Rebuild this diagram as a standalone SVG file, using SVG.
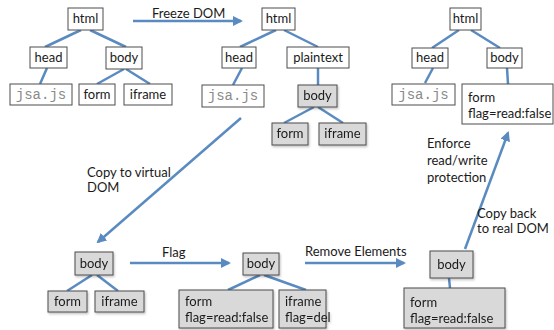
<svg xmlns="http://www.w3.org/2000/svg" width="554" height="330" viewBox="0 0 554 330">
  <style>
    .box { fill: #ffffff; stroke: #4d4d4d; stroke-width: 1; }
    .grey { fill: #d9d9d9; stroke: #4d4d4d; stroke-width: 1; }
    .lbl { font-family: Lato, "Open Sans", sans-serif; font-size: 13px; fill: #1a1a1a; }
    .mono { font-family: "Liberation Mono", "DejaVu Sans Mono", monospace; font-size: 14px; fill: #8a8a8a; }
    .edge { stroke: #5a8bc0; stroke-width: 2.5; fill: none; }
    .arrow { stroke: #5a8bc0; stroke-width: 2.5; fill: none; marker-end: url(#head); }
  </style>
  <defs>
    <marker id="head" viewBox="0 0 10 10" refX="8" refY="5" markerWidth="4" markerHeight="4" orient="auto" markerUnits="strokeWidth">
      <path d="M0,0 L10,5 L0,10 z" fill="#5a8bc0"/>
    </marker>
    <filter id="sh" x="-10%" y="-10%" width="130%" height="140%">
      <feDropShadow dx="1" dy="1.5" stdDeviation="1" flood-color="#000" flood-opacity="0.25"/>
    </filter>
  </defs>

  <!-- tree edges and process arrows -->
  <g id="connectors">
    <!-- tree 1 -->
    <line class="edge" x1="81" y1="30" x2="45" y2="47"/>
    <line class="edge" x1="90" y1="30" x2="126" y2="47"/>
    <line class="edge" x1="47" y1="68" x2="40" y2="84"/>
    <line class="edge" x1="124" y1="69" x2="97" y2="84"/>
    <line class="edge" x1="126" y1="69" x2="150" y2="84"/>
    <!-- tree 2 -->
    <line class="edge" x1="276" y1="30" x2="240" y2="47"/>
    <line class="edge" x1="284" y1="30" x2="318" y2="47"/>
    <line class="edge" x1="242" y1="68" x2="233" y2="85"/>
    <line class="edge" x1="318" y1="68" x2="318" y2="85"/>
    <line class="edge" x1="314" y1="107" x2="284" y2="123"/>
    <line class="edge" x1="318" y1="107" x2="343" y2="123"/>
    <!-- tree 3 -->
    <line class="edge" x1="459" y1="30" x2="432" y2="48"/>
    <line class="edge" x1="471" y1="30" x2="500" y2="48"/>
    <line class="edge" x1="433" y1="68" x2="425" y2="83"/>
    <line class="edge" x1="507" y1="68" x2="508" y2="84"/>
    <!-- virtual body A -->
    <line class="edge" x1="92" y1="275" x2="67" y2="291"/>
    <line class="edge" x1="97" y1="275" x2="118" y2="291"/>
    <!-- virtual body B -->
    <line class="edge" x1="260" y1="275" x2="228" y2="290"/>
    <line class="edge" x1="264" y1="275" x2="306" y2="290"/>
    <!-- virtual body C -->
    <line class="edge" x1="449" y1="278" x2="450" y2="288"/>

    <!-- process arrows -->
    <line class="arrow" x1="133" y1="21" x2="241" y2="21"/>
    <line class="arrow" x1="241" y1="118" x2="98" y2="242"/>
    <line class="arrow" x1="130" y1="263" x2="229" y2="263"/>
    <line class="arrow" x1="305" y1="263" x2="404" y2="263"/>
    <line class="arrow" x1="465" y1="249" x2="508" y2="133"/>
  </g>

  <!-- arrow labels -->
  <g id="labels">
    <text class="lbl" x="152" y="18">Freeze DOM</text>
    <text class="lbl" x="87" y="177">Copy to virtual</text>
    <text class="lbl" x="87" y="192">DOM</text>
    <text class="lbl" x="162" y="257">Flag</text>
    <text class="lbl" x="305" y="256">Remove Elements</text>
    <text class="lbl" x="427" y="148">Enforce</text>
    <text class="lbl" x="427" y="165">read/write</text>
    <text class="lbl" x="427" y="182">protection</text>
    <text class="lbl" x="477" y="218">Copy back</text>
    <text class="lbl" x="477" y="233">to real DOM</text>
  </g>

  <!-- tree 1: original DOM -->
  <g id="t1-html"><rect class="box" x="68" y="8" width="35" height="22"/><text class="lbl" x="85.5" y="23" text-anchor="middle">html</text></g>
  <g id="t1-head"><rect class="box" x="30" y="47" width="37" height="21"/><text class="lbl" x="48.5" y="62" text-anchor="middle">head</text></g>
  <g id="t1-body"><rect class="box" x="106" y="47" width="36" height="22"/><text class="lbl" x="124" y="62" text-anchor="middle">body</text></g>
  <g id="t1-jsa"><rect class="box" x="10" y="84" width="62" height="21"/><text class="mono" x="41" y="99" text-anchor="middle">jsa.js</text></g>
  <g id="t1-form"><rect class="box" x="79" y="84" width="36" height="21"/><text class="lbl" x="97" y="99" text-anchor="middle">form</text></g>
  <g id="t1-iframe"><rect class="box" x="124" y="84" width="48" height="21"/><text class="lbl" x="148" y="99" text-anchor="middle">iframe</text></g>

  <!-- tree 2: frozen DOM -->
  <g id="t2-html"><rect class="box" x="262" y="8" width="33" height="22"/><text class="lbl" x="278.5" y="23" text-anchor="middle">html</text></g>
  <g id="t2-head"><rect class="box" x="222" y="47" width="34" height="21"/><text class="lbl" x="239" y="62" text-anchor="middle">head</text></g>
  <g id="t2-plaintext"><rect class="box" x="287" y="47" width="62" height="21"/><text class="lbl" x="318" y="62" text-anchor="middle">plaintext</text></g>
  <g id="t2-jsa"><rect class="box" x="202" y="85" width="62" height="22"/><text class="mono" x="233" y="100" text-anchor="middle">jsa.js</text></g>
  <g id="t2-body" filter="url(#sh)"><rect class="grey" x="298" y="85" width="39" height="22"/><text class="lbl" x="317.5" y="100" text-anchor="middle">body</text></g>
  <g id="t2-form" filter="url(#sh)"><rect class="grey" x="272" y="123" width="36" height="22"/><text class="lbl" x="290" y="138" text-anchor="middle">form</text></g>
  <g id="t2-iframe" filter="url(#sh)"><rect class="grey" x="319" y="123" width="47" height="22"/><text class="lbl" x="342.5" y="138" text-anchor="middle">iframe</text></g>

  <!-- tree 3: protected real DOM -->
  <g id="t3-html"><rect class="box" x="450" y="8" width="31" height="22"/><text class="lbl" x="465.5" y="23" text-anchor="middle">html</text></g>
  <g id="t3-head"><rect class="box" x="412" y="48" width="36" height="20"/><text class="lbl" x="430" y="62" text-anchor="middle">head</text></g>
  <g id="t3-body"><rect class="box" x="487" y="48" width="35" height="20"/><text class="lbl" x="504.5" y="62" text-anchor="middle">body</text></g>
  <g id="t3-jsa"><rect class="box" x="392" y="84" width="63" height="21"/><text class="mono" x="423.5" y="99" text-anchor="middle">jsa.js</text></g>
  <g id="t3-form"><rect class="box" x="462" y="84" width="91" height="40"/><text class="lbl" x="468" y="102">form</text><text class="lbl" x="468" y="118">flag=read:false</text></g>

  <!-- virtual DOM copy -->
  <g id="va-body" filter="url(#sh)"><rect class="grey" x="75" y="252" width="38" height="23"/><text class="lbl" x="94" y="268" text-anchor="middle">body</text></g>
  <g id="va-form" filter="url(#sh)"><rect class="grey" x="48" y="291" width="39" height="21"/><text class="lbl" x="67.5" y="306" text-anchor="middle">form</text></g>
  <g id="va-iframe" filter="url(#sh)"><rect class="grey" x="95" y="291" width="49" height="21"/><text class="lbl" x="119.5" y="306" text-anchor="middle">iframe</text></g>

  <!-- flagged virtual DOM -->
  <g id="vb-body" filter="url(#sh)"><rect class="grey" x="243" y="253" width="36" height="22"/><text class="lbl" x="261" y="268" text-anchor="middle">body</text></g>
  <g id="vb-form" filter="url(#sh)"><rect class="grey" x="179" y="290" width="94" height="38"/><text class="lbl" x="185" y="306">form</text><text class="lbl" x="185" y="322">flag=read:false</text></g>
  <g id="vb-iframe" filter="url(#sh)"><rect class="grey" x="279" y="290" width="47" height="38"/><text class="lbl" x="285" y="306">iframe</text><text class="lbl" x="285" y="322">flag=del</text></g>

  <!-- pruned virtual DOM -->
  <g id="vc-body" filter="url(#sh)"><rect class="grey" x="430" y="251" width="43" height="27"/><text class="lbl" x="451.5" y="269" text-anchor="middle">body</text></g>
  <g id="vc-form" filter="url(#sh)"><rect class="grey" x="404" y="288" width="101" height="40"/><text class="lbl" x="410" y="307">form</text><text class="lbl" x="410" y="323">flag=read:false</text></g>
</svg>
